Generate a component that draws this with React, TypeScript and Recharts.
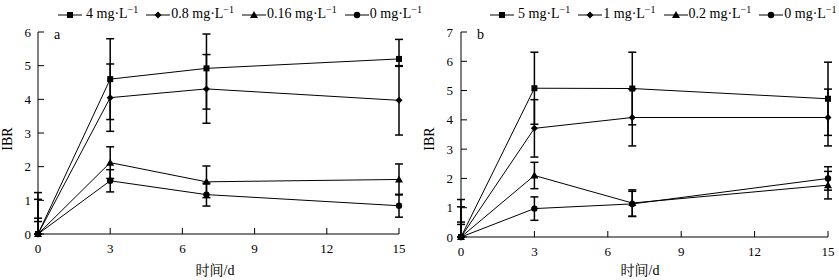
import React from 'react';
import { LineChart, Line, XAxis, YAxis, ErrorBar } from 'recharts';

const FONT = '"Liberation Serif", "Noto Serif CJK SC", "Noto Sans CJK SC", serif';

// sampling days
const days = [0, 3, 7, 15];
const dayTicks = [0, 3, 6, 9, 12, 15];

// panel a  (error at day 0 only drawn upward)
const aLabels = ['4', '0.8', '0.16', '0'];
const a4 = [0, 4.6, 4.92, 5.2];
const a4Err = [[0, 1.23], 1.2, [1.21, 1.02], [0.22, 0.58]];
const a08 = [0, 4.05, 4.31, 3.97];
const a08Err = [[0, 1.03], 1.0, 1.02, 1.03];
const a016 = [0, 2.12, 1.55, 1.62];
const a016Err = [[0, 0.47], 0.47, 0.47, 0.46];
const a0 = [0, 1.58, 1.17, 0.84];
const a0Err = [[0, 0.37], 0.33, 0.34, 0.34];
const aTicks = [0, 1, 2, 3, 4, 5, 6];

// panel b
const bLabels = ['5', '1', '0.2', '0'];
const b5 = [0, 5.08, 5.07, 4.72];
const b5Err = [[0, 1.28], 1.23, 1.24, 1.25];
const b1 = [0, 3.71, 4.08, 4.08];
const b1Err = [[0, 1.03], 0.98, 0.97, 0.97];
const b02 = [0, 2.1, 1.16, 1.77];
const b02Err = [[0, 0.51], 0.45, 0.45, 0.47];
const b0 = [0, 0.97, 1.13, 2.0];
const b0Err = [[0, 0.43], 0.4, 0.43, 0.4];
const bTicks = [0, 1, 2, 3, 4, 5, 6, 7];

type Shape = 'square' | 'diamond' | 'triangle' | 'circle';
const SHAPES: Shape[] = ['square', 'diamond', 'triangle', 'circle'];

function Marker({ shape, cx, cy }: { shape: Shape; cx: number; cy: number }) {
  if (shape === 'square') return <rect x={cx - 3} y={cy - 3} width={6} height={6} fill="#000" />;
  if (shape === 'diamond')
    return <polygon points={`${cx},${cy - 3.5} ${cx + 3.5},${cy} ${cx},${cy + 3.5} ${cx - 3.5},${cy}`} fill="#000" />;
  if (shape === 'triangle')
    return <polygon points={`${cx},${cy - 4} ${cx + 4},${cy + 3} ${cx - 4},${cy + 3}`} fill="#000" />;
  return <circle cx={cx} cy={cy} r={3.2} fill="#000" />;
}

const makeDot = (shape: Shape) => (props: any) => (
  <Marker key={`${shape}-${props.index}`} shape={shape} cx={props.cx} cy={props.cy} />
);

function LegendRow({ labels, left, gap }: { labels: string[]; left: number; gap: number }) {
  return (
    <div style={{ position: 'absolute', left, top: 5, display: 'flex', gap, fontSize: 14, lineHeight: '18px', whiteSpace: 'nowrap' }}>
      {labels.map((l, i) => (
        <div key={l} style={{ display: 'flex', alignItems: 'center' }}>
          <svg width={24} height={10}>
            <line x1={0} y1={5} x2={24} y2={5} stroke="#000" strokeWidth={1} />
            <Marker shape={SHAPES[i]} cx={12} cy={5} />
          </svg>
          <span style={{ marginLeft: i === 0 ? 4 : 1 }}>
            {l} mg·L<span style={{ fontSize: 10, position: 'relative', top: -5 }}>−1</span>
          </span>
        </div>
      ))}
    </div>
  );
}

function Panel(props: {
  x: number; width: number; series: number[][]; errs: any[][]; yMax: number; yTicks: number[];
  left: number; right: number; bottom: number; yMargin: number; labels: string[]; legendLeft: number;
  letter: string; titleX: number; ibrX: number;
}) {
  const data = days.map((d, i) => {
    const row: any = { day: d };
    props.series.forEach((s, k) => {
      row[`s${k}`] = s[i];
      row[`e${k}`] = props.errs[k][i];
    });
    return row;
  });
  const tickStyle = { fill: '#000', fontSize: 13, fontFamily: FONT };
  return (
    <div style={{ position: 'absolute', left: props.x, top: 0, width: props.width, height: 280 }}>
      <LineChart width={props.width} height={280} data={data}
        margin={{ top: 32, left: 0, right: props.right, bottom: props.bottom - 30 }}>
        <XAxis dataKey="day" type="number" domain={[0, 15]} ticks={dayTicks} height={30}
          stroke="#000" tickSize={-6} tickMargin={16} tick={tickStyle} interval={0} />
        <YAxis type="number" domain={[0, props.yMax]} ticks={props.yTicks} width={props.left}
          stroke="#000" tickSize={-6} tickMargin={props.yMargin} tick={tickStyle} interval={0} />
        {props.series.map((_, k) => (
          <Line key={k} dataKey={`s${k}`} stroke="#000" strokeWidth={1} dot={makeDot(SHAPES[k])}
            activeDot={false} isAnimationActive={false}>
            <ErrorBar dataKey={`e${k}`} direction="y" width={4} stroke="#000" strokeWidth={1.5} />
          </Line>
        ))}
      </LineChart>
      <LegendRow labels={props.labels} left={props.legendLeft} gap={8} />
      <div style={{ position: 'absolute', left: props.left + 16, top: 27, fontSize: 14 }}>{props.letter}</div>
      <div style={{ position: 'absolute', left: props.titleX - 30, width: 60, top: 259, fontSize: 14, textAlign: 'center' }}>时间/d</div>
      <div style={{ position: 'absolute', left: props.ibrX - 15, top: 131, width: 30, fontSize: 14, textAlign: 'center', transform: 'rotate(-90deg)' }}>IBR</div>
    </div>
  );
}

export default function App() {
  return (
    <div style={{ position: 'absolute', left: 0, top: 0, width: 839, height: 280, background: '#fff', fontFamily: FONT, color: '#000' }}>
      <Panel x={0} width={420} series={[a4, a08, a016, a0]} errs={[a4Err, a08Err, a016Err, a0Err]}
        yMax={6} yTicks={aTicks} left={38} right={21} bottom={46} yMargin={13} labels={aLabels}
        legendLeft={58} letter="a" titleX={215} ibrX={8} />
      <Panel x={420} width={419} series={[b5, b1, b02, b0]} errs={[b5Err, b1Err, b02Err, b0Err]}
        yMax={7} yTicks={bTicks} left={41} right={11} bottom={43} yMargin={14} labels={bLabels}
        legendLeft={70} letter="b" titleX={220} ibrX={10} />
    </div>
  );
}
